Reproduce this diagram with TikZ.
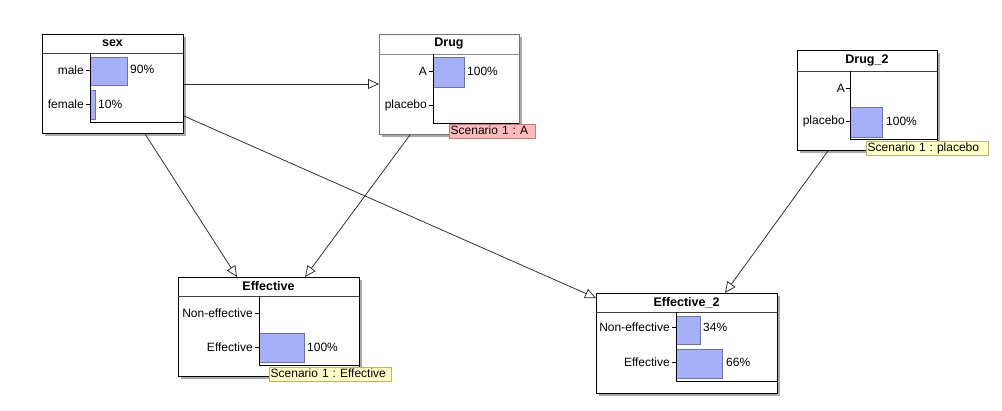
\documentclass[tikz,border=0pt]{standalone}
\usepackage{fontspec}
\setmainfont{Liberation Sans}
\usetikzlibrary{arrows.meta}
\frenchspacing
\definecolor{barfill}{RGB}{165,176,248}
\definecolor{barline}{RGB}{105,115,175}
\definecolor{shadowc}{RGB}{170,170,170}
\definecolor{pinkfill}{RGB}{255,187,187}
\definecolor{pinkline}{RGB}{200,120,120}
\definecolor{yelfill}{RGB}{255,255,200}
\definecolor{yelline}{RGB}{185,185,100}
\definecolor{edgec}{RGB}{40,40,40}
\tikzset{
  netbox/.style={draw=black, fill=white, line width=0.9pt, inner sep=0pt, anchor=north west},
  titletxt/.style={font=\fontsize{12.5}{14}\selectfont\bfseries, inner sep=0pt},
  lab/.style={font=\fontsize{12}{13}\selectfont, inner sep=0pt, anchor=east},
  pct/.style={font=\fontsize{12}{13}\selectfont, inner sep=0pt, anchor=west},
  bar/.style={draw=barline, fill=barfill, line width=0.7pt},
  frame/.style={draw=black, line width=0.9pt},
  sep/.style={draw=black!75, line width=0.7pt},
  tick/.style={draw=black, line width=0.7pt},
  shad/.style={fill=shadowc},
  scenbase/.style={font=\fontsize{12}{13}\selectfont\frenchspacing, inner xsep=1.5pt, inner ysep=0pt, text height=9.5pt, text depth=3pt, anchor=north west, minimum height=14.5pt, align=left},
  scenpink/.style={scenbase, draw=pinkline, fill=pinkfill},
  scenyel/.style={scenbase, draw=yelline, fill=yelfill},
  edge/.style={draw=edgec, line width=0.75pt, -{Triangle[open, length=11pt, width=10pt]}}
}
\begin{document}
\begin{tikzpicture}[x=1pt,y=-1pt]
\useasboundingbox[fill=white] (0,0) rectangle (1002,411);
% shadows
\fill[shad] (45,37) rectangle (186,136);
\fill[shad] (382,37) rectangle (522,137);
\fill[shad] (800,53) rectangle (940,153);
\fill[shad] (181,280) rectangle (362,379);
\fill[shad] (599,296) rectangle (780,396);

% ---- sex ----
\node[netbox, minimum width=141pt, minimum height=99pt] (sex) at (42,34) {};
\node[titletxt] (sex-title) at (112.5,43.5) {sex};
\draw[sep] (42,53) -- (183,53);
\draw[bar] (90,57) rectangle (127,85);
\draw[bar] (90,90) rectangle (95,119);
\draw[frame] (90,53) -- (90,122) -- (183,122);
\draw[tick] (86,70) -- (90,70);
\draw[tick] (86,104) -- (90,104);
\node[lab] (sex-l1) at (84,70) {male};
\node[lab] (sex-l2) at (84,104) {female};
\node[pct] (sex-p1) at (130,69) {90\%};
\node[pct] (sex-p2) at (98,104) {10\%};

% ---- Drug ----
\node[netbox, draw=black!55, minimum width=140pt, minimum height=100pt] (drug) at (379,34) {};
\node[titletxt] (drug-title) at (449,44) {Drug};
\draw[sep, draw=black!45] (379,54) -- (519,54);
\draw[bar] (433,57) rectangle (464,87);
\draw[frame] (433,54) -- (433,123) -- (519,123);
\draw[tick] (429,71) -- (433,71);
\draw[tick] (429,105) -- (433,105);
\node[lab] (drug-l1) at (427,71) {A};
\node[lab] (drug-l2) at (427,105) {placebo};
\node[pct] (drug-p1) at (467,71) {100\%};
\node[scenpink, text width=83pt] (drug-scen) at (449,124) {Scenario 1 : A};

% ---- Drug_2 ----
\node[netbox, minimum width=140pt, minimum height=100pt] (drug2) at (797,50) {};
\node[titletxt] (drug2-title) at (867,60.5) {Drug\_2};
\draw[sep] (797,71) -- (937,71);
\draw[bar] (850,107) rectangle (882,137);
\draw[frame] (850,71) -- (850,139) -- (937,139);
\draw[tick] (846,88) -- (850,88);
\draw[tick] (846,121) -- (850,121);
\node[lab] (drug2-l1) at (845,88) {A};
\node[lab] (drug2-l2) at (845,121) {placebo};
\node[pct] (drug2-p1) at (886,121) {100\%};
\node[scenyel, text width=119pt] (drug2-scen) at (866,141) {Scenario 1 : placebo};

% ---- Effective ----
\node[netbox, minimum width=181pt, minimum height=99pt] (eff) at (178,277) {};
\node[titletxt] (eff-title) at (268.5,286.5) {Effective};
\draw[sep] (178,296) -- (359,296);
\draw[bar] (259,333) rectangle (304,362);
\draw[frame] (259,296) -- (259,365) -- (359,365);
\draw[tick] (255,313) -- (259,313);
\draw[tick] (255,347) -- (259,347);
\node[lab] (eff-l1) at (253,313) {Non-effective};
\node[lab] (eff-l2) at (253,347) {Effective};
\node[pct] (eff-p1) at (307,347) {100\%};
\node[scenyel, text width=119pt] (eff-scen) at (269,367) {Scenario 1 : Effective};

% ---- Effective_2 ----
\node[netbox, minimum width=181pt, minimum height=100pt] (eff2) at (596,293) {};
\node[titletxt] (eff2-title) at (686.5,302.5) {Effective\_2};
\draw[sep] (596,312) -- (777,312);
\draw[bar] (676,316) rectangle (700,344);
\draw[bar] (676,349) rectangle (722,378);
\draw[frame] (676,312) -- (676,381) -- (777,381);
\draw[tick] (672,327) -- (676,327);
\draw[tick] (672,362) -- (676,362);
\node[lab] (eff2-l1) at (670,327) {Non-effective};
\node[lab] (eff2-l2) at (670,362) {Effective};
\node[pct] (eff2-p1) at (703,327) {34\%};
\node[pct] (eff2-p2) at (726,362) {66\%};

% ---- edges ----
\draw[edge] (sex.east) -- (sex.east -| drug.west);
\draw[edge] ([xshift=103pt]sex.south west) -- ([xshift=59pt]eff.north west);
\draw[edge] ([xshift=31pt]drug.south west) -- ([xshift=127pt]eff.north west);
\draw[edge] ([yshift=-82pt]sex.north east) -- ([yshift=-5pt]eff2.north west);
\draw[edge] ([xshift=31pt]drug2.south west) -- ([xshift=129pt]eff2.north west);
\end{tikzpicture}
\end{document}
